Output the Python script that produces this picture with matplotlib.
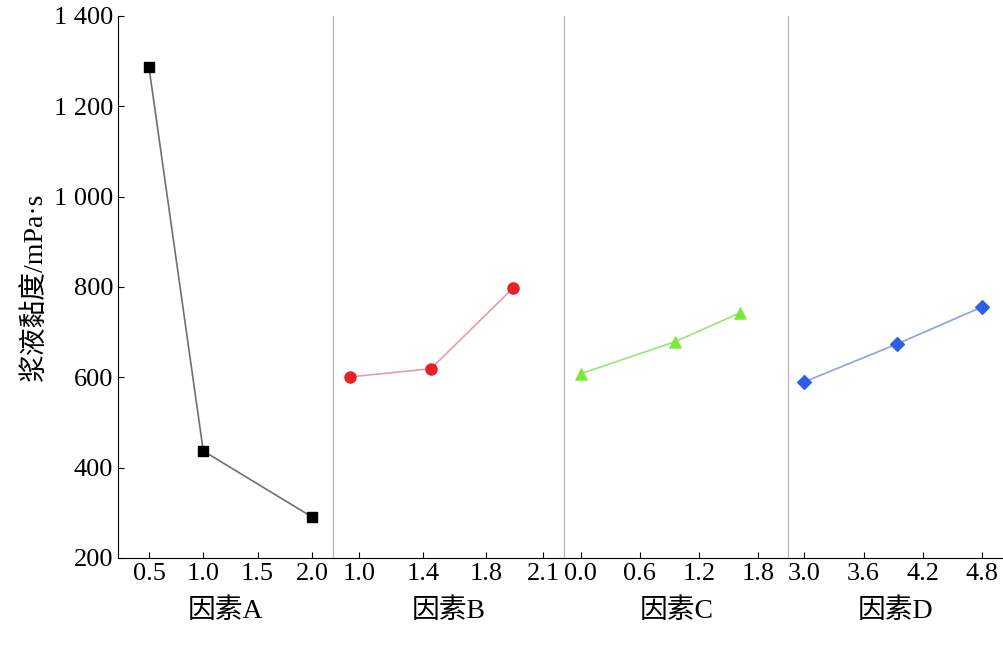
import matplotlib
matplotlib.use("Agg")
import matplotlib.pyplot as plt

fam = ['Liberation Serif', 'Noto Sans CJK SC']
plt.rcParams['font.family'] = fam

labels = ["因素A", "因素B", "因素C", "因素D"]
xs = [[0.5, 1.0, 2.0], [0.94, 1.45, 1.97], [0.0, 0.96, 1.62], [3.0, 3.94, 4.8]]
ys = [[1287, 437, 291], [601, 619, 798], [608, 679, 743], [590, 674, 756]]
xticks = [[0.5, 1.0, 1.5, 2.0], [1.0, 1.4, 1.8, 2.16], [0.0, 0.6, 1.2, 1.8], [3.0, 3.6, 4.2, 4.8]]
xticklabels = [["0.5", "1.0", "1.5", "2.0"], ["1.0", "1.4", "1.8", "2.1"],
               ["0.0", "0.6", "1.2", "1.8"], ["3.0", "3.6", "4.2", "4.8"]]
xlims = [(0.215, 2.19), (0.83, 2.29), (-0.17, 2.11), (2.84, 5.0)]
markers = ['s', 'o', '^', 'D']
mcolors = ['black', '#e8202a', '#7ee83a', '#2f5fe8']
lcolors = ['#707070', '#e89aa8', '#9be27a', '#8fa0e0']
msizes = [7, 8, 8, 7]
yticks = [200, 400, 600, 800, 1000, 1200, 1400]
yticklabels = ["200", "400", "600", "800", "1 000", "1 200", "1 400"]

fig = plt.figure(figsize=(10.04, 6.46), dpi=100)
gs = fig.add_gridspec(1, 4, width_ratios=[215, 232, 225, 214], wspace=0,
                      left=118/1004, right=1002/1004, bottom=1-558/646, top=1-16/646)
for i in range(4):
    ax = fig.add_subplot(gs[0, i])
    ax.plot(xs[i], ys[i], color=lcolors[i], lw=1.2, zorder=1)
    ax.scatter(xs[i], ys[i], marker=markers[i], color=mcolors[i], s=msizes[i]**2, zorder=2)
    ax.set_xlim(*xlims[i])
    ax.set_ylim(200, 1400)
    ax.set_xticks(xticks[i])
    ax.set_xticklabels(xticklabels[i], fontsize=19)
    ax.set_xlabel(labels[i], fontsize=20, family=fam, labelpad=10)
    ax.tick_params(axis='x', direction='in', length=4)
    for s in ['top', 'right']:
        ax.spines[s].set_visible(False)
    if i == 0:
        ax.set_yticks(yticks)
        ax.set_yticklabels(yticklabels, fontsize=19)
        ax.set_ylabel("浆液黏度/mPa·s", fontsize=20, family=fam)
        ax.tick_params(axis='y', direction='in', length=4)
    else:
        ax.spines['left'].set_color('#b0b0b0')
        ax.tick_params(axis='y', left=False, labelleft=False)

fig.savefig("out.png", dpi=100)
